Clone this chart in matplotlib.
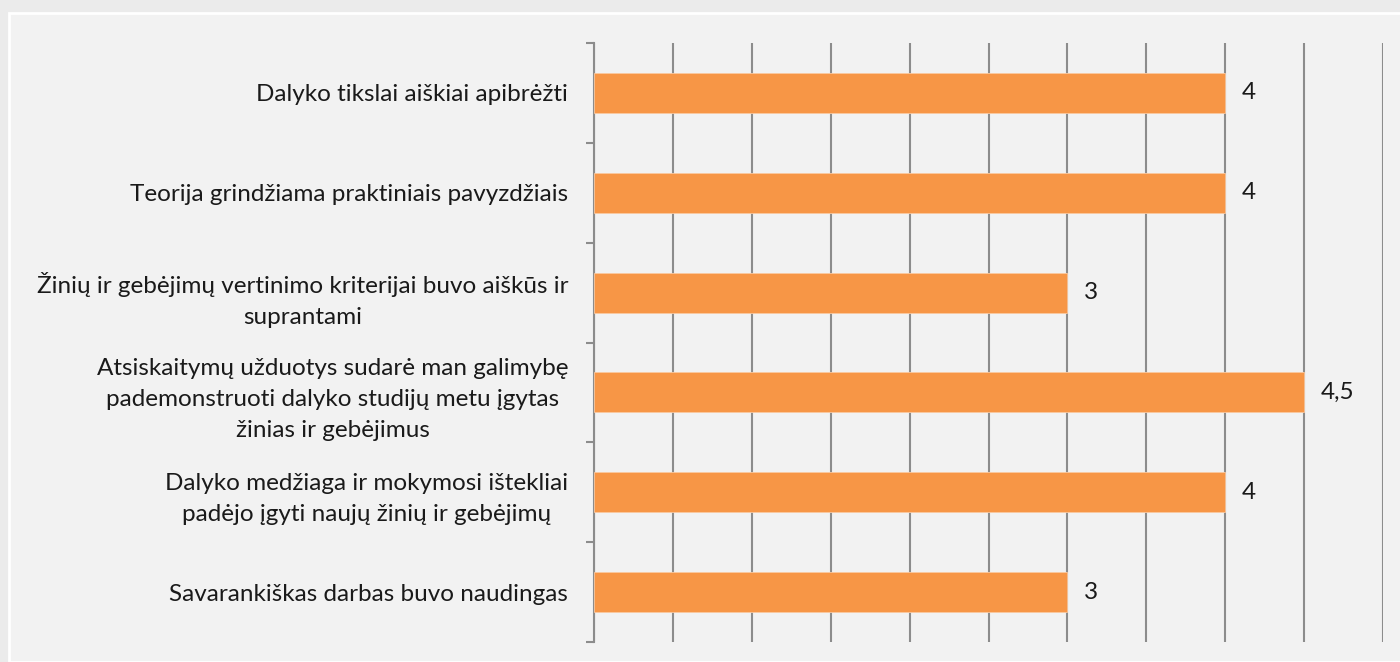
import matplotlib
matplotlib.use("Agg")
import matplotlib.pyplot as plt
from matplotlib.patches import Rectangle
import numpy as np

categories = [
    "Dalyko tikslai aiškiai apibrėžti",
    "Teorija grindžiama praktiniais pavyzdžiais",
    "Žinių ir gebėjimų vertinimo kriterijai buvo aiškūs ir\nsuprantami",
    "Atsiskaitymų užduotys sudarė man galimybę\npademonstruoti dalyko studijų metu įgytas\nžinias ir gebėjimus",
    "Dalyko medžiaga ir mokymosi ištekliai\npadėjo įgyti naujų žinių ir gebėjimų",
    "Savarankiškas darbas buvo naudingas",
]
values = [4, 4, 3, 4.5, 4, 3]
value_labels = ["4", "4", "3", "4,5", "4", "3"]

plt.rcParams['font.family'] = ['Lato', 'DejaVu Sans']

W, H = 1400, 662
fig = plt.figure(figsize=(W / 100, H / 100), dpi=100)
fig.patch.set_facecolor("#ebebeb")
fig.patches.append(Rectangle((9 / W, 0), 1.0, 1 - 13 / H, transform=fig.transFigure,
                             facecolor="#f2f2f2", edgecolor="white", linewidth=2, zorder=-10))

ax = fig.add_axes([594 / W, 1 - 642 / H, (1383 - 594) / W, (642 - 43) / H])
ax.set_facecolor("none")
ax.set_zorder(5)

n = len(categories)
y = np.arange(n)
ax.barh(y, values, height=0.4, color="#F79646", edgecolor="#fbc9a0", linewidth=0.6, zorder=3)
ax.set_ylim(n - 0.5, -0.5)
ax.set_xlim(0, 5)

ax.set_xticks(np.arange(0, 5.01, 0.5))
ax.xaxis.grid(True, color="#8c8c8c", linewidth=1.5, zorder=1)
ax.tick_params(axis="x", length=0, labelbottom=False)

ax.set_yticks(y)
ax.set_yticklabels(categories, fontsize=17.5, color="#1a1a1a", multialignment="center",
                   linespacing=1.6)
ax.set_yticks(np.arange(-0.5, n, 1), minor=True)
ax.tick_params(axis="y", which="major", length=0, pad=18.5)
ax.tick_params(axis="y", which="minor", length=6, width=1.5, color="#8c8c8c")

for s in ["top", "right", "bottom"]:
    ax.spines[s].set_visible(False)
ax.spines["left"].set_color("#8c8c8c")
ax.spines["left"].set_linewidth(1.5)

for yi, v, lab in zip(y, values, value_labels):
    ax.annotate(lab, (v, yi), xytext=(12, 0), textcoords="offset points",
                va="center", ha="left", fontsize=17.5, color="#1a1a1a", zorder=4)

fig.savefig("out.png", dpi=100, facecolor=fig.get_facecolor())
